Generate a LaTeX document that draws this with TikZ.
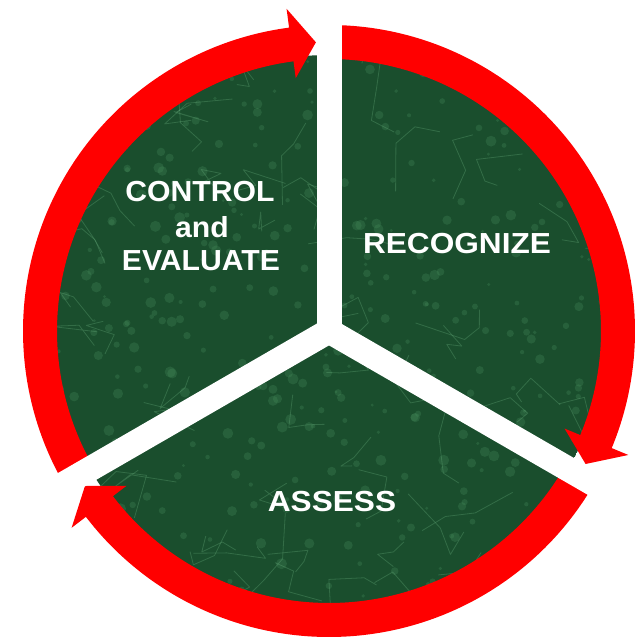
\documentclass[tikz,border=0pt]{standalone}
\usepackage{fontspec}
\usetikzlibrary{calc}
\newfontfamily\labA[FakeStretch=1.04]{Liberation Sans}
\newfontfamily\labB[FakeStretch=1.09]{Liberation Sans}
\definecolor{marble}{RGB}{26,78,45}
\definecolor{speck}{RGB}{70,140,92}
\definecolor{vein}{RGB}{110,180,130}
\definecolor{ringred}{RGB}{255,0,0}
\tikzset{
  veinline/.style={draw=vein, opacity=0.3, line width=0.8pt, line join=round},
  speckdot/.style={fill=speck, opacity=0.3},
  gapline/.style={draw=white, line width=25pt},
  lblA/.style={text=white, font=\labA\bfseries\fontsize{29}{34}\selectfont, anchor=base, inner sep=0pt},
  lblB/.style={text=white, font=\labB\bfseries\fontsize{29}{34}\selectfont, anchor=base, inner sep=0pt}
}
\begin{document}
\begin{tikzpicture}[x=1pt,y=1pt]
\useasboundingbox (0,0) rectangle (642,639);
\fill[white] (0,0) rectangle (642,639);
\coordinate (C) at (329,308);
% green marble disc
\begin{scope}
  \clip (C) circle[radius=276];
  \fill[marble] (C) circle[radius=276];
  \pgfmathsetseed{11}
  \foreach \i in {1,...,450}{
    \fill[speckdot] (rnd*600+30,rnd*600+10) circle[radius=rnd*4+1.5];
  }
  \foreach \i in {1,...,70}{
    \draw[veinline] (rnd*600+30,rnd*600+10) -- ++(rnd*360:rnd*40+15) -- ++(rnd*360:rnd*30+10) -- ++(rnd*360:rnd*25+8);
  }
\end{scope}
% red arrows (clockwise)
\begin{scope}[shift={(C)}]
  % right arc: 90 -> -30
  \fill[ringred] (90:306) arc[start angle=90, end angle=-22.5, radius=306]
     -- (-22.5:324) -- (-27.4:289) -- (-22.5:255) -- (-22.5:272)
     arc[start angle=-22.5, end angle=90, radius=272] -- cycle;
  % bottom arc: -30 -> -150
  \fill[ringred] (-30:306) arc[start angle=-30, end angle=-142.6, radius=306]
     -- (-142.6:324) -- (-147.6:289) -- (-142.6:255) -- (-142.6:272)
     arc[start angle=-142.6, end angle=-30, radius=272] -- cycle;
  % left arc: 210 -> 90
  \fill[ringred] (210:306) arc[start angle=210, end angle=97.5, radius=306]
     -- (97.5:325) -- (92.6:289) -- (97.5:255) -- (97.5:272)
     arc[start angle=97.5, end angle=210, radius=272] -- cycle;
\end{scope}
% white gaps
\coordinate (g1) at ($(C)+(90:345)$);
\coordinate (g2) at ($(C)+(210:345)$);
\coordinate (g3) at ($(C)+(-30:345)$);
\draw[gapline] (C) -- (g1);
\draw[gapline] (C) -- (g2);
\draw[gapline] (C) -- (g3);
% labels
\node[lblA] (ctl1) at (200,437) {CONTROL};
\node[lblA] (ctl2) at (202,401) {and};
\node[lblA] (ctl3) at (201,368) {EVALUATE};
\node[lblB] (rec) at (457,385) {RECOGNIZE};
\node[lblB] (ass) at (332,127) {ASSESS};
\end{tikzpicture}
\end{document}
